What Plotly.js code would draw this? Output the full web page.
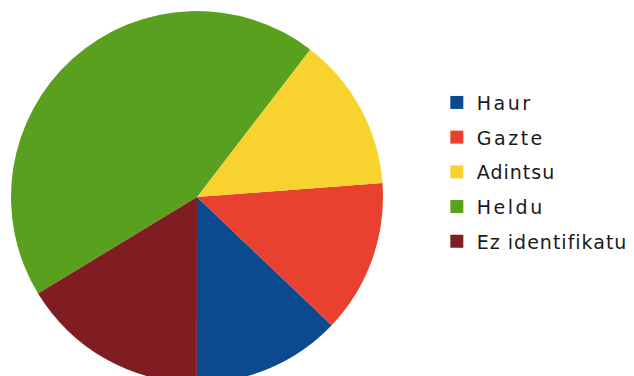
<!DOCTYPE html>
<html>
<head>
<meta charset="utf-8">
<script src="https://cdn.plot.ly/plotly-3.0.1.min.js"></script>
<style>
html, body { margin: 0; padding: 0; background: #ffffff; overflow: hidden; width: 634px; height: 376px; }
#chart { width: 634px; height: 400px; }
.legend .scrollbox { clip-path: none !important; }
.legend .legendtext { letter-spacing: 1px; }
.legend .groups:nth-child(1) .legendtext,
.legend .groups:nth-child(2) .legendtext,
.legend .groups:nth-child(4) .legendtext { letter-spacing: 2.5px; }
</style>
</head>
<body>
<div id="chart"></div>
<script>
// Data (percent of whole)
const categories = ["Haur", "Gazte", "Adintsu", "Heldu", "Ez identifikatu"];
const values = [12.9, 13.3, 13.4, 44.1, 16.3];
const colors = ["#0b4a8e", "#e8412f", "#f8d330", "#5aa01f", "#7f1d22"];

const traces = [{
  type: "pie",
  labels: categories,
  values: values,
  sort: false,
  direction: "counterclockwise",
  rotation: 133.6,
  textinfo: "none",
  hoverinfo: "label+percent",
  marker: { colors: colors, line: { width: 0 } },
  showlegend: false,
  domain: { x: [0, 1], y: [0, 1] }
}];

// legend entries (one per category, same colours as the slices)
categories.forEach((c, i) => {
  traces.push({
    type: "scatter",
    mode: "markers",
    x: [null],
    y: [null],
    name: c,
    legendgroup: "g" + i,
    showlegend: true,
    hoverinfo: "skip",
    marker: { symbol: "square", size: 13, color: colors[i] }
  });
});

const layout = {
  width: 634,
  height: 400,
  margin: { l: 11, r: 251, t: 11, b: 17 },
  paper_bgcolor: "#ffffff",
  plot_bgcolor: "#ffffff",
  xaxis: { visible: false },
  yaxis: { visible: false },
  showlegend: true,
  legend: {
    xref: "container",
    yref: "container",
    x: 0.689,
    xanchor: "left",
    y: 0.791,
    yanchor: "top",
    traceorder: "grouped",
    tracegroupgap: 7,
    font: { family: "DejaVu Sans", size: 19, color: "#1a1a1a" },
    bgcolor: "rgba(0,0,0,0)"
  }
};

Plotly.newPlot("chart", traces, layout, { displayModeBar: false, staticPlot: true });
</script>
</body>
</html>
